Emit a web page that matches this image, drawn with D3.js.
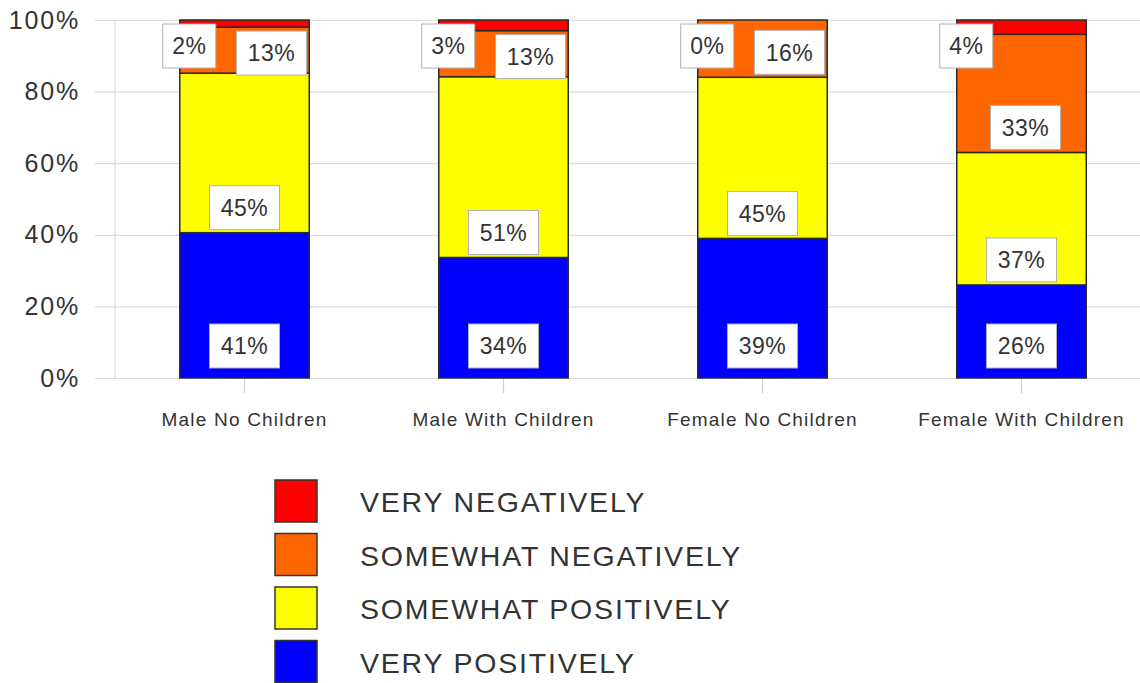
<!DOCTYPE html>
<html>
<head>
<meta charset="utf-8">
<script src="https://cdn.jsdelivr.net/npm/d3@7"></script>
<style>
  html, body { margin: 0; padding: 0; background: #fff; }
  svg { display: block; font-family: "Liberation Sans", Arial, sans-serif; }
</style>
</head>
<body>
<svg id="chart" width="1140" height="683"></svg>
<script>
// ---- data ----
const categories = ["Male No Children", "Male With Children", "Female No Children", "Female With Children"];
const veryPositively = [41, 34, 39, 26];
const somewhatPositively = [45, 51, 45, 37];
const somewhatNegatively = [13, 13, 16, 33];
const veryNegatively = [2, 3, 0, 4];
const seriesNames = ["VERY POSITIVELY", "SOMEWHAT POSITIVELY", "SOMEWHAT NEGATIVELY", "VERY NEGATIVELY"];
const seriesColors = ["#0000ff", "#ffff00", "#ff6600", "#ff0000"];
const yTicks = [0, 0.2, 0.4, 0.6, 0.8, 1.0];

const keys = ["vp", "sp", "sn", "vn"];
const table = categories.map((c, i) => ({
  cat: c, vp: veryPositively[i], sp: somewhatPositively[i], sn: somewhatNegatively[i], vn: veryNegatively[i]
}));

const svg = d3.select("#chart");

const x = d3.scaleBand().domain(categories).range([115, 1151]).paddingInner(0.5).paddingOuter(0.25);
const y = d3.scaleLinear().domain([0, 1]).range([378, 20]);

const stacked = d3.stack().keys(keys).offset(d3.stackOffsetExpand)(table);

// gridlines + y labels
const yAxis = d3.axisLeft(y).tickValues(yTicks).tickFormat(d3.format(".0%"))
  .tickSize(1045).tickPadding(15);
const gy = svg.append("g").attr("transform", "translate(1140,0)").call(yAxis);
gy.select(".domain").remove();
gy.selectAll(".tick line").attr("stroke", "#dcdcdc").attr("stroke-width", 1.2);
gy.selectAll(".tick text").attr("fill", "#333").style("font-size", "25px").style("letter-spacing", "1.8px")
  .attr("font-family", "Liberation Sans, Arial, sans-serif");

// vertical axis line
svg.append("line").attr("x1", 115).attr("x2", 115).attr("y1", y(1)).attr("y2", y(0))
  .attr("stroke", "#dcdcdc").attr("stroke-width", 1.2);

// x axis
const xAxis = d3.axisBottom(x).tickSize(15).tickPadding(20);
const gx = svg.append("g").attr("transform", `translate(0,${y(0)})`).call(xAxis);
gx.select(".domain").remove();
gx.selectAll(".tick line").attr("stroke", "#cfcfcf").attr("stroke-width", 1.2);
gx.selectAll(".tick text").attr("fill", "#333").style("font-size", "19px").style("letter-spacing", "1.2px")
  .attr("font-family", "Liberation Sans, Arial, sans-serif");

// bars
const layers = svg.append("g").selectAll("g").data(stacked).join("g")
  .attr("fill", (d, i) => seriesColors[i]);
layers.selectAll("rect").data(d => d).join("rect")
  .attr("x", d => x(d.data.cat))
  .attr("width", x.bandwidth())
  .attr("y", d => y(d[1]))
  .attr("height", d => y(d[0]) - y(d[1]))
  .attr("stroke", "#2a2a2a")
  .attr("stroke-width", 1.5);

// labels
const labelOffsets = [32, 25, 25];
const labelG = svg.append("g");
stacked.forEach((layer, si) => {
  layer.forEach((d, ci) => {
    const val = table[ci][keys[si]];
    const txt = val + "%";
    let cx, cy, w, h = 44;
    if (si === 3) {
      w = 53;
      cx = x(d.data.cat) - 17 + w / 2;
      cy = y(1) + 26;
    } else {
      w = 70;
      cx = x(d.data.cat) + x.bandwidth() / 2;
      cy = Math.max(y(d[0]) - labelOffsets[si], y(d[1]) + 26);
      if (si === 2 && cy < y(1) + 70) cx += 27;
      else if (si === 2) cx += 4;
    }
    labelG.append("rect")
      .attr("x", cx - w / 2).attr("y", cy - h / 2).attr("width", w).attr("height", h)
      .attr("fill", "#fff").attr("stroke", "#b0b0b0").attr("stroke-width", 1);
    labelG.append("text")
      .attr("x", cx).attr("y", cy).attr("dy", "0.36em")
      .attr("text-anchor", "middle")
      .attr("fill", "#333")
      .style("font-size", "23px").style("letter-spacing", "0.5px")
      .text(txt);
  });
});

// legend (top-down order: very negatively first)
const legendOrder = [3, 2, 1, 0];
const lg = svg.append("g");
legendOrder.forEach((si, i) => {
  const top = 480 + i * 53.5;
  lg.append("rect").attr("x", 275).attr("y", top).attr("width", 42).attr("height", 42)
    .attr("fill", seriesColors[si]).attr("stroke", "#333").attr("stroke-width", 1.5);
  lg.append("text").attr("x", 360).attr("y", top + 32)
    .attr("fill", "#333").style("font-size", "28.5px").style("letter-spacing", "1.8px")
    .text(seriesNames[si]);
});
</script>
</body>
</html>
